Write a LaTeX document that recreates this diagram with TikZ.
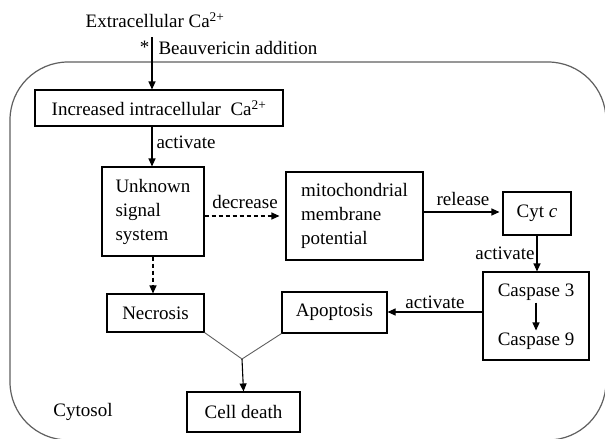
\documentclass[tikz,border=0pt]{standalone}
\usepackage{fontspec}
\setmainfont{Liberation Serif}
\usetikzlibrary{arrows.meta,calc}
\definecolor{cellgray}{RGB}{95,95,95}

\begin{document}
\begin{tikzpicture}[x=1pt, y=-1pt,
      font=\fontsize{19}{24}\selectfont,
      box/.style={rectangle, draw=black, line width=1.1pt, inner sep=0pt, align=center},
      leftbox/.style={box, align=left},
      arrow/.style={-{Triangle[length=8pt,width=7pt]}, line width=1.1pt},
      dasharrow/.style={arrow, dash pattern=on 4pt off 3pt},
      lbl/.style={inner sep=2pt}
    ]
      \useasboundingbox (0,0) rectangle (605,439);
      % cell outline
      \begin{scope}
        \clip (0,0) rectangle (605,439);
        \draw[cellgray, line width=1.2pt, rounded corners=58pt] (10,62) rectangle (606,440);
      \end{scope}

      \node[lbl] (ext) at (155,20) {Extracellular Ca\textsuperscript{2+}};
      \coordinate (cain) at (152,37);

      \node[box, minimum width=248pt, minimum height=36pt] (inc) at (159,108) {Increased intracellular\ \ Ca\textsuperscript{2+}};
      \node[leftbox, minimum width=102pt, minimum height=89pt] (unk) at (153,211.5) {Unknown\\signal\\system};
      \node[leftbox, minimum width=137pt, minimum height=88pt] (mito) at (354.5,216) {mitochondrial\\membrane\\potential};
      \node[box, minimum width=68pt, minimum height=43pt] (cyt) at (537,213.5) {Cyt \textit{c}};
      \node[box, minimum width=106pt, minimum height=88pt] (casp) at (536,316) {};
      \node[lbl] (c3) at (536,292) {Caspase 3};
      \node[lbl] (c9) at (536,341) {Caspase 9};
      \node[box, minimum width=105pt, minimum height=41pt] (apop) at (334.5,312.5) {Apoptosis};
      \node[box, minimum width=97pt, minimum height=38pt] (necr) at (155.5,313) {Necrosis};
      \node[box, minimum width=113pt, minimum height=40pt] (death) at (243.5,412) {Cell death};
      \coordinate (jn) at (242,359);
      \node[lbl] (cytosol) at (83,412) {Cytosol};

      \draw[arrow] (cain) -- (cain |- inc.north)
        node[pos=0.2, left, lbl] {*} node[pos=0.21, right, lbl, xshift=4pt] {Beauvericin addition};
      \draw[arrow] (cain |- inc.south) -- (cain |- unk.north) node[pos=0.39, right, lbl, xshift=2pt] {activate};
      \draw[dasharrow, shorten >=6pt] (mito.west -| unk.east) -- node[above, lbl, yshift=5pt] {decrease} (mito.west);
      \draw[arrow, shorten >=3pt] ([yshift=1.5pt]cyt.west -| mito.east) -- node[above, lbl, yshift=4pt] {release} ([yshift=1.5pt]cyt.west);
      \draw[arrow] (cyt.south) -- (cyt.south |- casp.north) node[midway, left, lbl] {activate};
      \draw[arrow] (c3.south) -- (c9.north);
      \draw[arrow] ([yshift=4pt]casp.west) -- node[above, lbl, yshift=1pt] {activate} ([yshift=4pt]casp.west -| apop.east);
      \draw[dasharrow] (unk.south) -- (unk.south |- necr.north);
      \draw[line width=0.9pt, cellgray] (necr.south east) -- (jn) -- (apop.south west);
      \draw[arrow] (jn) -- (death.north);
    \end{tikzpicture}
\end{document}
